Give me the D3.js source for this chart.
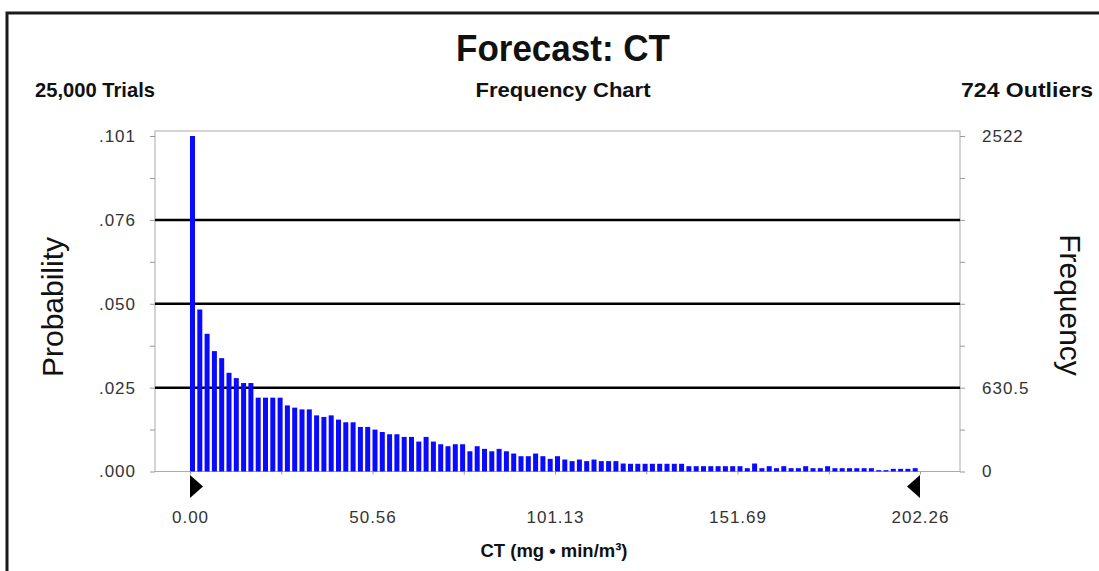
<!DOCTYPE html>
<html>
<head>
<meta charset="utf-8">
<script src="https://cdn.jsdelivr.net/npm/d3@7"></script>
<style>
  body { margin: 0; background: #fff; }
  svg { display: block; }
  .hdr { font-family: "Liberation Sans Narrow", "Arial Narrow", "Liberation Sans", Arial, sans-serif; font-weight: bold; fill: #111; }
  .tick text { font-family: "Liberation Sans", Arial, sans-serif; font-size: 17px; letter-spacing: 1px; fill: #333; }
</style>
</head>
<body>
<svg id="chart" width="1099" height="571"></svg>
<script>
// crystal-ball style forecast, 100 bins, counts per bin
const trials = 25000;
const outliers = 724;
const xMin = 0, xMax = 202.26;
const xTickLabels = ["0.00", "50.56", "101.13", "151.69", "202.26"];
const counts = [
  2522, 1218, 1035, 905, 852, 742, 702, 665, 665, 555,
  555, 555, 555, 497, 480, 467, 467, 422, 410, 422,
  390, 370, 370, 335, 335, 315, 297, 280, 280, 260,
  260, 225, 260, 225, 205, 190, 205, 205, 152, 190,
  170, 152, 170, 152, 135, 115, 115, 135, 115, 95,
  115, 90, 78, 90, 78, 90, 78, 78, 78, 60,
  58, 58, 58, 58, 58, 58, 58, 58, 40, 40,
  40, 40, 40, 40, 40, 40, 25, 60, 25, 40,
  25, 40, 25, 25, 40, 25, 25, 40, 25, 25,
  25, 25, 25, 25, 10, 10, 20, 20, 20, 25
];
const maxCount = 2522;

const svg = d3.select("#chart");

// outer border
svg.append("rect")
  .attr("x", 7).attr("y", 13).attr("width", 1100).attr("height", 600)
  .attr("fill", "none").attr("stroke", "#1a1a1a").attr("stroke-width", 3);

const frame = { left: 155, right: 960, top: 131, bottom: 471.5 };

const x = d3.scaleLinear().domain([xMin, xMax]).range([190, 920]);
const y = d3.scaleLinear().domain([0, maxCount]).range([frame.bottom, 136]);
const binW = (xMax - xMin) / counts.length;

// frame
svg.append("rect")
  .attr("x", frame.left).attr("y", frame.top)
  .attr("width", frame.right - frame.left).attr("height", frame.bottom - frame.top)
  .attr("fill", "none").attr("stroke", "#aaa").attr("stroke-width", 1);

const majors = d3.range(0, 5).map(i => maxCount * i / 4);
const allTicks = d3.range(0, 9).map(i => maxCount * i / 8);

// gridlines
svg.append("g")
  .selectAll("line")
  .data(majors.slice(1, 4))
  .join("line")
  .attr("x1", frame.left).attr("x2", frame.right)
  .attr("y1", d => y(d)).attr("y2", d => y(d))
  .attr("stroke", "#000").attr("stroke-width", 2.5);

// bars
svg.append("g")
  .selectAll("rect")
  .data(counts)
  .join("rect")
  .attr("x", (d, i) => x(xMin + i * binW))
  .attr("width", x(binW) - x(0) - 2.3)
  .attr("y", d => y(d))
  .attr("height", d => y(0) - y(d))
  .attr("fill", "#0a0aff");

// left axis (probability)
const probFmt = v => d3.format(".3f")(v / trials).replace(/^0/, "");
const leftAxis = svg.append("g")
  .attr("transform", `translate(${frame.left},0)`)
  .call(d3.axisLeft(y).tickValues(allTicks).tickSize(5).tickPadding(14)
    .tickFormat((d, i) => i % 2 === 0 ? probFmt(d) : ""));

// right axis (frequency)
const rightLabels = { 0: "0", 2: "630.5", 8: "2522" };
const rightAxis = svg.append("g")
  .attr("transform", `translate(${frame.right},0)`)
  .call(d3.axisRight(y).tickValues(allTicks).tickSize(5).tickPadding(17)
    .tickFormat((d, i) => rightLabels[i] || ""));

// bottom axis: minor ticks + labels
const xAxis = svg.append("g")
  .attr("transform", `translate(0,${frame.bottom})`)
  .call(d3.axisBottom(x).tickValues(d3.range(0, 9).map(i => xMax * i / 8)).tickSize(3).tickPadding(36)
    .tickFormat((d, i) => i % 2 === 0 ? xTickLabels[i / 2] : ""));

[leftAxis, rightAxis, xAxis].forEach(g => {
  g.select(".domain").remove();
  g.selectAll(".tick line").attr("stroke", "#999");
});

// range markers
const tri = (edge, dir) => {
  const x0 = x(edge), top = 475, bot = 498;
  return `M${x0},${top} L${x0 + dir * 13},${(top + bot) / 2} L${x0},${bot} Z`;
};
svg.append("path").attr("d", tri(xMin, 1)).attr("fill", "#000");
svg.append("path").attr("d", tri(xMax, -1)).attr("fill", "#000");

// headings (condensed look via textLength)
const header = (txt, xPos, yPos, size, len, anchor) =>
  svg.append("text").attr("class", "hdr")
    .attr("x", xPos).attr("y", yPos).attr("text-anchor", anchor)
    .attr("font-size", size)
    .attr("textLength", len).attr("lengthAdjust", "spacingAndGlyphs")
    .text(txt);

header("Forecast: CT", 563, 61, 37, 214, "middle");
header(d3.format(",")(trials) + " Trials", 35, 97, 21, 120, "start");
header("Frequency Chart", 563, 97, 21, 175, "middle");
header(outliers + " Outliers", 1093, 97, 21, 132, "end");

// axis titles
svg.append("text")
  .attr("transform", "translate(63,307) rotate(-90)")
  .attr("text-anchor", "middle")
  .style("font-family", "'Liberation Sans', Arial, sans-serif")
  .attr("font-size", 30).attr("fill", "#111")
  .text("Probability");
svg.append("text")
  .attr("transform", "translate(1060,305) rotate(90)")
  .attr("text-anchor", "middle")
  .style("font-family", "'Liberation Sans', Arial, sans-serif")
  .attr("font-size", 30).attr("fill", "#111")
  .text("Frequency");
header("CT (mg \u2022 min/m\u00B3)", 554, 557, 19, 147, "middle");
</script>
</body>
</html>
